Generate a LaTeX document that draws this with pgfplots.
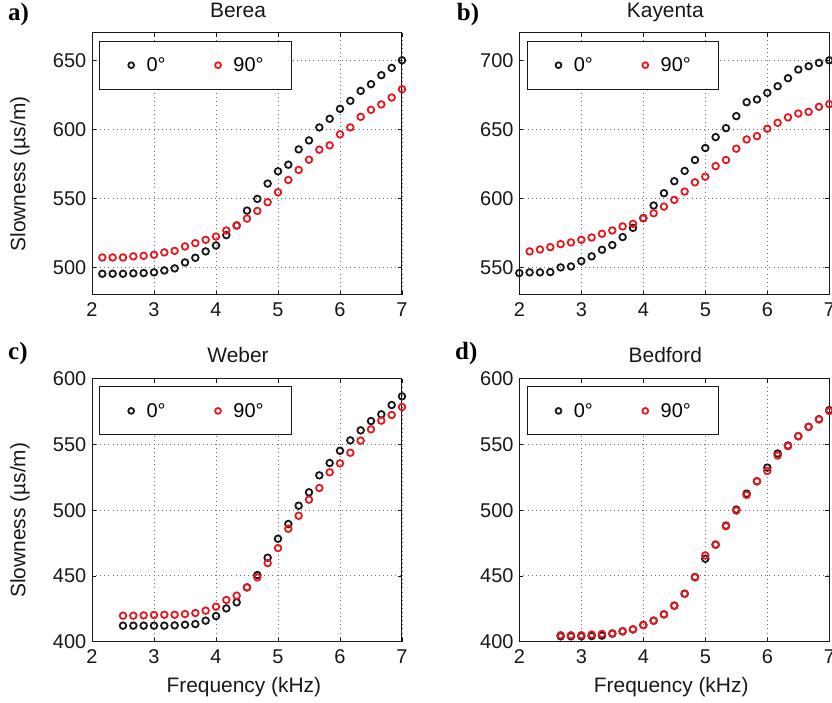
\documentclass[border=0pt]{standalone}
\usepackage{fontspec}
\setmainfont{Liberation Sans}
\newfontfamily\panelfont{Liberation Serif}
\usepackage{pgfplots}
\usepackage{pgfplotstable}
\pgfplotsset{compat=1.18}

\definecolor{mred}{RGB}{232,24,32}
\definecolor{mblack}{RGB}{24,24,24}
\definecolor{gridgray}{RGB}{110,110,110}

% slowness versus frequency, columns: frequency, 0 deg, 90 deg
\pgfplotstableread{
f s0 s90
2.1667 495.4 507.2
2.3333 495.4 507.2
2.5 495.4 507.2
2.6667 495.7 508.0
2.8333 495.9 508.4
3.0 496.4 509.2
3.1667 497.8 510.9
3.3333 499.3 512.0
3.5 503.6 515.2
3.6667 507.0 517.6
3.8333 511.6 520.0
4.0 515.9 522.4
4.1667 523.4 526.8
4.3333 530.4 530.4
4.5 541.2 535.4
4.6667 549.7 541.0
4.8333 560.8 547.3
5.0 569.7 554.5
5.1667 574.5 563.4
5.3333 585.6 570.7
5.5 592.1 578.1
5.6667 601.5 585.4
5.8333 607.8 588.5
6.0 615.0 596.5
6.1667 620.8 601.5
6.3333 628.0 609.2
6.5 632.9 614.3
6.6667 639.4 618.2
6.8333 644.7 623.2
7.0 650.2 629.2
}\berea

\pgfplotstableread{
f s0 s90
2.0 545.9 nan
2.1667 546.4 561.6
2.3333 546.4 563.0
2.5 546.6 564.7
2.6667 550.0 566.9
2.8333 550.7 568.1
3.0 554.6 570.0
3.1667 558.0 571.7
3.3333 562.8 574.4
3.5 566.2 576.8
3.6667 572.0 579.7
3.8333 578.7 581.6
4.0 585.7 585.7
4.1667 594.9 589.3
4.3333 603.8 594.1
4.5 612.5 599.0
4.6667 620.0 605.0
4.8333 627.9 611.7
5.0 636.6 615.8
5.1667 644.5 623.5
5.3333 651.0 627.9
5.5 659.7 636.1
5.6667 669.8 642.8
5.8333 671.8 645.2
6.0 676.6 650.6
6.1667 681.4 654.9
6.3333 687.2 658.8
6.5 693.5 661.6
6.6667 695.9 662.8
6.8333 698.3 666.5
7.0 700.2 668.4
}\kayenta

\pgfplotstableread{
f s0 s90
2.5 412.2 419.8
2.6667 412.2 419.8
2.8333 412.2 420.0
3.0 412.2 420.3
3.1667 412.2 420.5
3.3333 412.4 420.5
3.5 412.9 421.0
3.6667 413.4 421.8
3.8333 416.0 423.6
4.0 419.5 426.6
4.1667 425.3 431.7
4.3333 429.9 435.0
4.5 441.3 441.3
4.6667 450.7 448.9
4.8333 463.9 459.8
5.0 478.3 471.2
5.1667 489.5 485.9
5.3333 503.4 495.8
5.5 513.6 508.0
5.6667 526.5 516.9
5.8333 535.9 528.8
6.0 545.2 535.6
6.1667 553.1 543.7
6.3333 560.7 552.9
6.5 567.8 561.5
6.6667 572.9 568.1
6.8333 580.0 572.4
7.0 586.6 578.5
}\weber

\pgfplotstableread{
f s0 s90
2.6667 404.1 404.9
2.8333 404.1 404.9
3.0 404.1 404.9
3.1667 404.3 405.4
3.3333 404.6 405.9
3.5 406.1 406.4
3.6667 407.9 407.9
3.8333 409.4 409.4
4.0 412.7 412.7
4.1667 416.0 416.0
4.3333 420.8 420.8
4.5 427.4 427.4
4.6667 436.5 436.5
4.8333 449.2 448.9
5.0 463.1 465.6
5.1667 473.8 473.8
5.3333 488.3 487.8
5.5 500.5 499.7
5.6667 512.6 511.6
5.8333 522.0 522.0
6.0 532.4 529.9
6.1667 543.1 541.6
6.3333 549.2 548.7
6.5 556.3 556.3
6.6667 563.4 563.4
6.8333 569.2 569.0
7.0 576.1 575.4
}\bedford

\pgfplotsset{
  panel/.style={
    scale only axis, width=310bp, height=262bp, anchor=south west,
    xmin=2, xmax=7, xtick={2,...,7},
    clip=false,
    axis line style={line width=1bp, color=mblack},
    tick style={line width=0.8bp, color=mblack},
    tick align=inside, major tick length=4bp,
    grid=major,
    major grid style={line width=0.9bp, color=gridgray, dash pattern=on 0.9bp off 3.2bp},
    ticklabel style={font=\fontsize{20}{24}\selectfont, text=mblack},
    /pgf/number format/assume math mode=true,
    xticklabel style={yshift=-4.5bp},
    yticklabel style={xshift=-2.3bp},
    title style={font=\fontsize{21}{25}\selectfont, text=mblack,
      at={(axis description cs:0.471,1.037)}, anchor=base},
    label style={font=\fontsize{21}{25}\selectfont, text=mblack},
    ylabel style={at={(axis description cs:-0.232,0.462)}, anchor=center},
    xlabel style={at={(axis description cs:0.49,-0.172)}, anchor=center},
    every axis plot/.append style={only marks, mark=o, mark size=3.3bp, line width=1.8bp},
    legend columns=2,
    legend image code/.code={%
      \draw[#1, mark size=2.9bp] plot coordinates {(0bp,0bp)};
      \path (-4.5bp,0bp) (12.5bp,0bp);},
    legend style={
      at={(axis description cs:0,1)}, anchor=north west,
      xshift=7.3bp, yshift=-7.7bp,
      draw=mblack, line width=1bp,
      inner xsep=26bp, inner ysep=14.3bp,
      font=\fontsize{20}{24}\selectfont,
      /tikz/every even column/.append style={column sep=45bp},
    },
  },
  s0/.style={color=mblack},
  s90/.style={color=mred},
}

\begin{document}
\begin{tikzpicture}
\useasboundingbox (0,0) rectangle (832bp,703bp);

% a) Berea
\begin{axis}[panel, at={(92bp,408bp)}, ymin=480, ymax=670,
  ytick={500,550,600,650}, title={Berea}, ylabel={Slowness (µs/m)}]
  \addplot[s0] table[x=f, y=s0] {\berea};
  \addplot[s90] table[x=f, y=s90] {\berea};
  \legend{0°, 90°}
\end{axis}

% b) Kayenta
\begin{axis}[panel, at={(519.3bp,408bp)}, ymin=530, ymax=720,
  ytick={550,600,650,700}, title={Kayenta}]
  \addplot[s0] table[x=f, y=s0] {\kayenta};
  \addplot[s90] table[x=f, y=s90] {\kayenta};
  \legend{0°, 90°}
\end{axis}

% c) Weber
\begin{axis}[panel, at={(92bp,61.3bp)}, height=263bp, ymin=400, ymax=600,
  ytick={400,450,...,600}, title={Weber},
  ylabel={Slowness (µs/m)}, xlabel={Frequency (kHz)}]
  \addplot[s0] table[x=f, y=s0] {\weber};
  \addplot[s90] table[x=f, y=s90] {\weber};
  \legend{0°, 90°}
\end{axis}

% d) Bedford
\begin{axis}[panel, at={(519.3bp,61.3bp)}, height=263bp, ymin=400, ymax=600,
  ytick={400,450,...,600}, title={Bedford}, xlabel={Frequency (kHz)}]
  \addplot[s0] table[x=f, y=s0] {\bedford};
  \addplot[s90] table[x=f, y=s90] {\bedford};
  \legend{0°, 90°}
\end{axis}

% panel letters
\begin{scope}[every node/.style={anchor=base west, inner sep=0pt,
    font=\panelfont\bfseries\fontsize{25}{29}\selectfont}]
  \node at (8bp,682.3bp) {a)};
  \node at (456.7bp,682.3bp) {b)};
  \node at (8bp,343.7bp) {c)};
  \node at (455bp,343.7bp) {d)};
\end{scope}
\end{tikzpicture}
\end{document}
